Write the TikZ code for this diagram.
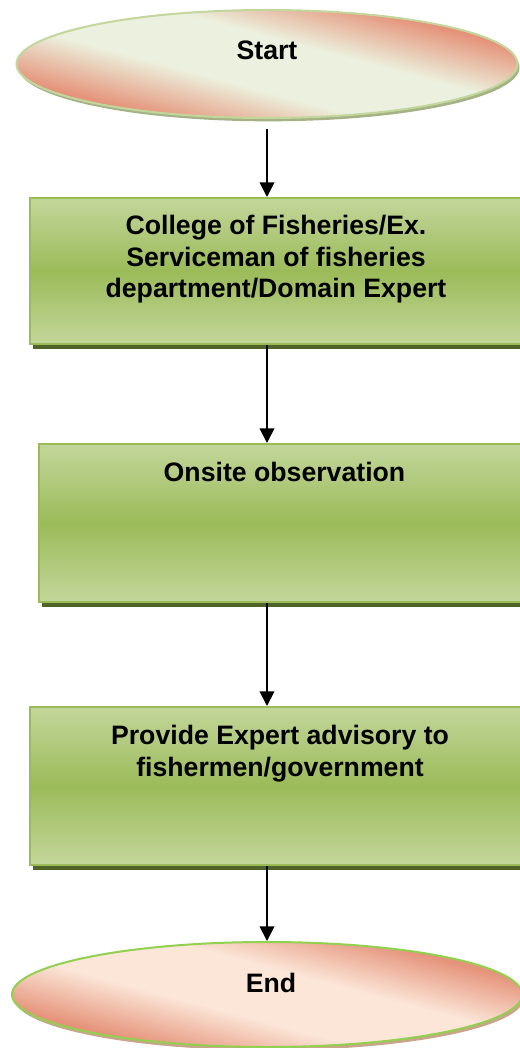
\documentclass[tikz,border=0pt]{standalone}
\usepackage{fontspec}
\setmainfont{Liberation Sans}
\usetikzlibrary{shapes.geometric,shadows,arrows.meta}

\definecolor{palegreen}{HTML}{EBF1DE}
\definecolor{salmon}{HTML}{E5937A}
\definecolor{peach}{HTML}{FBE6D8}
\definecolor{lightolive}{HTML}{C3D69B}
\definecolor{olive}{HTML}{9BBB59}
\definecolor{darkolive}{HTML}{4F6228}
\definecolor{limegreen}{HTML}{92D050}
\definecolor{greyolive}{HTML}{A4B285}
\definecolor{tanshadow}{HTML}{C9A58C}

\pgfdeclareverticalshading{startshade}{100bp}{color(0bp)=(salmon); color(29bp)=(salmon);
  color(43bp)=(palegreen); color(57bp)=(palegreen); color(71bp)=(salmon); color(100bp)=(salmon)}
\pgfdeclareverticalshading{endshade}{100bp}{color(0bp)=(salmon); color(29bp)=(salmon);
  color(43bp)=(peach); color(57bp)=(peach); color(71bp)=(salmon); color(100bp)=(salmon)}

\tikzset{
  term/.style={ellipse, inner sep=0pt, line width=1.5pt},
  startterm/.style={term, draw=lightolive, shading=startshade, shading angle=-15,
    drop shadow={shadow xshift=1.5pt, shadow yshift=-2.5pt, fill=greyolive, opacity=1}},
  endterm/.style={term, draw=limegreen, shading=endshade, shading angle=-15,
    drop shadow={shadow xshift=1.5pt, shadow yshift=-2.5pt, fill=tanshadow, opacity=1}},
  procbox/.style={rectangle, draw=olive, line width=1.5pt, inner sep=0pt,
    top color=lightolive, bottom color=lightolive, middle color=olive,
    drop shadow={shadow xshift=2.25pt, shadow yshift=-3.5pt, fill=darkolive, opacity=1}},
  boxtext/.style={anchor=north, inner sep=0pt, align=center,
    font=\fontsize{20}{23.6}\selectfont\bfseries},
  flow/.style={-{Triangle[length=11pt,width=11pt]}, line width=1.3pt}
}

\begin{document}
\begin{tikzpicture}[x=0.75pt,y=0.75pt,yscale=-1,xscale=1]
\useasboundingbox (0,0) rectangle (520,1048);
\clip (0,0) rectangle (520,1048);
% Shapes
\node[startterm, minimum width=375.75pt, minimum height=81pt] (start) at (267,64) {};
\node[procbox, minimum width=369pt, minimum height=109.5pt] (b1) at (276,271) {};
\node[procbox, minimum width=368.25pt, minimum height=118.5pt] (b2) at (284.5,523) {};
\node[procbox, minimum width=375pt, minimum height=118.5pt] (b3) at (280,786) {};
\node[endterm, minimum width=382.5pt, minimum height=78.75pt] (finish) at (267,994.5) {};
% Connectors
\draw[flow, shorten <=7.5pt] (start) -- (start |- b1.north);
\draw[flow] (start |- b1.south) -- (start |- b2.north);
\draw[flow] (start |- b2.south) -- (start |- b3.north);
\draw[flow] (start |- b3.south) -- (finish);
% Text Node
\node[boxtext] (starttext) at (267,40.5) {Start};
% Text Node
\node[boxtext] (t1) at (276,215) {College of Fisheries/Ex.\\Serviceman of fisheries\\department/Domain Expert};
% Text Node
\node[boxtext] (t2) at (284.5,462) {Onsite observation};
% Text Node
\node[boxtext] (t3) at (280,725) {Provide Expert advisory to\\fishermen/government};
% Text Node
\node[boxtext] (endtext) at (271,972.7) {End};
\end{tikzpicture}
\end{document}
